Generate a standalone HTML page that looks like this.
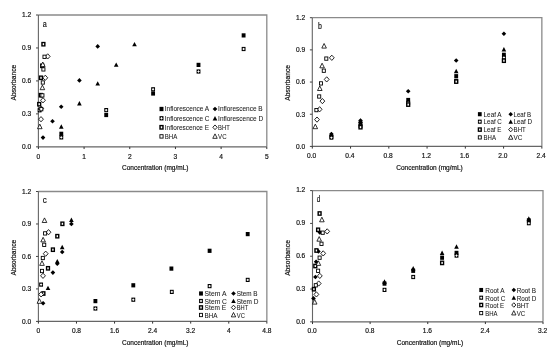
<!DOCTYPE html>
<html><head><meta charset="utf-8"><style>
html,body{margin:0;padding:0;background:#fff;width:550px;height:351px;overflow:hidden}
svg{display:block;filter:grayscale(1) blur(0.3px)}
text{font-family:"Liberation Sans", sans-serif;fill:#111;stroke:#111;stroke-width:0.18px}
.lg{fill:#1a1a1a;stroke:#1a1a1a;stroke-width:0.06px}
</style></head><body>
<svg width="550" height="351" viewBox="0 0 550 351">
<rect width="550" height="351" fill="#fff"/>
<path d="M38.4 15.0H266.8V146.85" fill="none" stroke="#8a8a8a" stroke-width="1.3"/>
<path d="M38.4 15.0V146.85H266.8" fill="none" stroke="#666" stroke-width="1.1"/>
<path d="M36.0 146.85H38.4" stroke="#444" stroke-width="1"/>
<text x="31.20" y="149.15" font-size="6.6" text-anchor="end" >0.0</text>
<path d="M36.0 113.89H38.4" stroke="#444" stroke-width="1"/>
<text x="31.20" y="116.19" font-size="6.6" text-anchor="end" >0.3</text>
<path d="M36.0 80.92H38.4" stroke="#444" stroke-width="1"/>
<text x="31.20" y="83.22" font-size="6.6" text-anchor="end" >0.6</text>
<path d="M36.0 47.96H38.4" stroke="#444" stroke-width="1"/>
<text x="31.20" y="50.26" font-size="6.6" text-anchor="end" >0.9</text>
<path d="M36.0 15.00H38.4" stroke="#444" stroke-width="1"/>
<text x="31.20" y="17.30" font-size="6.6" text-anchor="end" >1.2</text>
<path d="M38.40 146.85V149.04999999999998" stroke="#333" stroke-width="1"/>
<text x="38.40" y="158.95" font-size="6.6" text-anchor="middle" >0</text>
<path d="M84.08 146.85V149.04999999999998" stroke="#333" stroke-width="1"/>
<text x="84.08" y="158.95" font-size="6.6" text-anchor="middle" >1</text>
<path d="M129.76 146.85V149.04999999999998" stroke="#333" stroke-width="1"/>
<text x="129.76" y="158.95" font-size="6.6" text-anchor="middle" >2</text>
<path d="M175.44 146.85V149.04999999999998" stroke="#333" stroke-width="1"/>
<text x="175.44" y="158.95" font-size="6.6" text-anchor="middle" >3</text>
<path d="M221.12 146.85V149.04999999999998" stroke="#333" stroke-width="1"/>
<text x="221.12" y="158.95" font-size="6.6" text-anchor="middle" >4</text>
<path d="M266.80 146.85V149.04999999999998" stroke="#333" stroke-width="1"/>
<text x="266.80" y="158.95" font-size="6.6" text-anchor="middle" >5</text>
<text x="155.20" y="170.35" font-size="6.5" text-anchor="middle" >Concentration (mg/mL)</text>
<text x="0" y="0" font-size="6.7" text-anchor="middle" transform="translate(16.0,82.6) rotate(-90)">Absorbance</text>
<text x="42.80" y="26.50" font-size="8.6" text-anchor="start"  textLength="4.00" lengthAdjust="spacingAndGlyphs">a</text>
<rect x="241.67" y="33.30" width="3.86" height="4.2" fill="#000"/>
<rect x="196.57" y="62.80" width="3.86" height="4.2" fill="#000"/>
<rect x="151.17" y="91.40" width="3.86" height="4.2" fill="#000"/>
<rect x="104.27" y="112.90" width="3.86" height="4.2" fill="#000"/>
<rect x="59.37" y="131.70" width="3.86" height="4.2" fill="#000"/>
<path d="M97.70 44.09L100.01 46.40L97.70 48.71L95.39 46.40Z" fill="#000"/>
<path d="M79.40 78.09L81.71 80.40L79.40 82.71L77.09 80.40Z" fill="#000"/>
<path d="M61.20 104.49L63.51 106.80L61.20 109.11L58.89 106.80Z" fill="#000"/>
<path d="M52.50 118.99L54.81 121.30L52.50 123.61L50.19 121.30Z" fill="#000"/>
<path d="M43.00 135.29L45.31 137.60L43.00 139.91L40.69 137.60Z" fill="#000"/>
<rect x="241.67" y="46.90" width="3.86" height="4.2" fill="#000"/><rect x="242.51" y="48.50" width="2.18" height="1.01" fill="#fff"/><rect x="243.10" y="47.91" width="1.01" height="2.18" fill="#fff"/>
<rect x="196.57" y="69.40" width="3.86" height="4.2" fill="#000"/><rect x="197.41" y="71.00" width="2.18" height="1.01" fill="#fff"/><rect x="198.00" y="70.41" width="1.01" height="2.18" fill="#fff"/>
<rect x="151.17" y="87.20" width="3.86" height="4.2" fill="#000"/><rect x="152.01" y="88.80" width="2.18" height="1.01" fill="#fff"/><rect x="152.60" y="88.21" width="1.01" height="2.18" fill="#fff"/>
<rect x="104.27" y="108.00" width="3.86" height="4.2" fill="#000"/><rect x="105.11" y="109.60" width="2.18" height="1.01" fill="#fff"/><rect x="105.70" y="109.01" width="1.01" height="2.18" fill="#fff"/>
<rect x="59.37" y="135.30" width="3.86" height="4.2" fill="#000"/><rect x="60.21" y="136.90" width="2.18" height="1.01" fill="#fff"/><rect x="60.80" y="136.31" width="1.01" height="2.18" fill="#fff"/>
<rect x="37.67" y="108.20" width="3.86" height="4.2" fill="#000"/><rect x="38.51" y="109.80" width="2.18" height="1.01" fill="#fff"/><rect x="39.10" y="109.21" width="1.01" height="2.18" fill="#fff"/>
<path d="M134.50 41.90L136.80 46.30L132.20 46.30Z" fill="#000"/>
<path d="M116.20 62.40L118.50 66.80L113.90 66.80Z" fill="#000"/>
<path d="M97.70 81.20L100.00 85.60L95.40 85.60Z" fill="#000"/>
<path d="M79.40 101.10L81.70 105.50L77.10 105.50Z" fill="#000"/>
<path d="M61.30 124.30L63.60 128.70L59.00 128.70Z" fill="#000"/>
<rect x="41.26" y="41.85" width="4.28" height="4.70" fill="#000"/><rect x="42.69" y="43.19" width="1.43" height="2.02" fill="#fff"/>
<rect x="40.06" y="63.45" width="4.28" height="4.70" fill="#000"/><rect x="41.49" y="64.79" width="1.43" height="2.02" fill="#fff"/>
<rect x="38.86" y="75.45" width="4.28" height="4.70" fill="#000"/><rect x="40.29" y="76.79" width="1.43" height="2.02" fill="#fff"/>
<rect x="38.66" y="92.85" width="4.28" height="4.70" fill="#000"/><rect x="40.09" y="94.19" width="1.43" height="2.02" fill="#fff"/>
<rect x="37.06" y="101.85" width="4.28" height="4.70" fill="#000"/><rect x="38.49" y="103.19" width="1.43" height="2.02" fill="#fff"/>
<path d="M47.70 53.77L50.12 56.40L47.70 59.02L45.29 56.40Z" fill="#fff" stroke="#000" stroke-width="0.85"/>
<path d="M45.30 75.17L47.71 77.80L45.30 80.42L42.88 77.80Z" fill="#fff" stroke="#000" stroke-width="0.85"/>
<path d="M43.00 97.67L45.41 100.30L43.00 102.92L40.59 100.30Z" fill="#fff" stroke="#000" stroke-width="0.85"/>
<path d="M41.20 105.97L43.62 108.60L41.20 111.22L38.79 108.60Z" fill="#fff" stroke="#000" stroke-width="0.85"/>
<path d="M41.00 116.58L43.41 119.20L41.00 121.83L38.59 119.20Z" fill="#fff" stroke="#000" stroke-width="0.85"/>
<rect x="42.96" y="55.15" width="3.09" height="3.30" fill="#fff" stroke="#000" stroke-width="0.9"/>
<rect x="41.86" y="67.75" width="3.09" height="3.30" fill="#fff" stroke="#000" stroke-width="0.9"/>
<rect x="41.26" y="80.85" width="3.09" height="3.30" fill="#fff" stroke="#000" stroke-width="0.9"/>
<rect x="40.86" y="93.75" width="3.09" height="3.30" fill="#fff" stroke="#000" stroke-width="0.9"/>
<rect x="39.76" y="107.55" width="3.09" height="3.30" fill="#fff" stroke="#000" stroke-width="0.9"/>
<path d="M42.80 62.00L45.10 66.60L40.50 66.60Z" fill="#fff" stroke="#000" stroke-width="0.8" stroke-linejoin="round"/>
<path d="M42.40 85.10L44.70 89.70L40.10 89.70Z" fill="#fff" stroke="#000" stroke-width="0.8" stroke-linejoin="round"/>
<path d="M39.80 124.10L42.10 128.70L37.50 128.70Z" fill="#fff" stroke="#000" stroke-width="0.8" stroke-linejoin="round"/>
<rect x="159.52" y="106.85" width="3.96" height="4.3" fill="#000"/>
<text x="164.80" y="111.35" font-size="6.9" text-anchor="start" class="lg" textLength="44.40" lengthAdjust="spacingAndGlyphs">Inflorescence A</text>
<path d="M215.00 106.64L217.37 109.00L215.00 111.36L212.63 109.00Z" fill="#000"/>
<text x="218.10" y="111.35" font-size="6.9" text-anchor="start" class="lg" textLength="44.50" lengthAdjust="spacingAndGlyphs">Inflorescence B</text>
<rect x="159.52" y="116.15" width="3.96" height="4.3" fill="#000"/><rect x="160.38" y="117.78" width="2.24" height="1.03" fill="#fff"/><rect x="160.98" y="117.18" width="1.03" height="2.24" fill="#fff"/>
<text x="164.80" y="120.65" font-size="6.9" text-anchor="start" class="lg" textLength="44.70" lengthAdjust="spacingAndGlyphs">Inflorescence C</text>
<path d="M215.00 115.95L217.35 120.45L212.65 120.45Z" fill="#000"/>
<text x="218.10" y="120.65" font-size="6.9" text-anchor="start" class="lg" textLength="45.00" lengthAdjust="spacingAndGlyphs">Inflorescence D</text>
<rect x="159.31" y="124.89" width="4.39" height="4.82" fill="#000"/><rect x="160.77" y="126.27" width="1.46" height="2.06" fill="#fff"/>
<text x="164.80" y="129.65" font-size="6.9" text-anchor="start" class="lg" textLength="44.20" lengthAdjust="spacingAndGlyphs">Inflorescence E</text>
<path d="M215.00 124.94L217.18 127.30L215.00 129.66L212.82 127.30Z" fill="#fff" stroke="#000" stroke-width="0.85"/>
<text x="218.10" y="129.65" font-size="6.9" text-anchor="start" class="lg" textLength="11.60" lengthAdjust="spacingAndGlyphs">BHT</text>
<rect x="159.91" y="134.70" width="3.19" height="3.40" fill="#fff" stroke="#000" stroke-width="0.9"/>
<text x="164.80" y="138.75" font-size="6.9" text-anchor="start" class="lg" textLength="12.50" lengthAdjust="spacingAndGlyphs">BHA</text>
<path d="M215.00 133.86L217.24 138.34L212.76 138.34Z" fill="#fff" stroke="#000" stroke-width="0.8" stroke-linejoin="round"/>
<text x="218.10" y="138.75" font-size="6.9" text-anchor="start" class="lg" textLength="8.50" lengthAdjust="spacingAndGlyphs">VC</text>
<path d="M312.3 17.7H541.85V146.4" fill="none" stroke="#8a8a8a" stroke-width="1.3"/>
<path d="M312.3 17.7V146.4H541.85" fill="none" stroke="#666" stroke-width="1.1"/>
<path d="M309.90000000000003 146.40H312.3" stroke="#444" stroke-width="1"/>
<text x="305.10" y="148.70" font-size="6.6" text-anchor="end" >0.0</text>
<path d="M309.90000000000003 114.22H312.3" stroke="#444" stroke-width="1"/>
<text x="305.10" y="116.52" font-size="6.6" text-anchor="end" >0.3</text>
<path d="M309.90000000000003 82.05H312.3" stroke="#444" stroke-width="1"/>
<text x="305.10" y="84.35" font-size="6.6" text-anchor="end" >0.6</text>
<path d="M309.90000000000003 49.88H312.3" stroke="#444" stroke-width="1"/>
<text x="305.10" y="52.17" font-size="6.6" text-anchor="end" >0.9</text>
<path d="M309.90000000000003 17.70H312.3" stroke="#444" stroke-width="1"/>
<text x="305.10" y="20.00" font-size="6.6" text-anchor="end" >1.2</text>
<path d="M312.30 146.4V148.6" stroke="#333" stroke-width="1"/>
<text x="311.60" y="157.70" font-size="6.6" text-anchor="middle" >0.0</text>
<path d="M350.56 146.4V148.6" stroke="#333" stroke-width="1"/>
<text x="349.86" y="157.70" font-size="6.6" text-anchor="middle" >0.4</text>
<path d="M388.82 146.4V148.6" stroke="#333" stroke-width="1"/>
<text x="388.12" y="157.70" font-size="6.6" text-anchor="middle" >0.8</text>
<path d="M427.07 146.4V148.6" stroke="#333" stroke-width="1"/>
<text x="426.38" y="157.70" font-size="6.6" text-anchor="middle" >1.2</text>
<path d="M465.33 146.4V148.6" stroke="#333" stroke-width="1"/>
<text x="464.63" y="157.70" font-size="6.6" text-anchor="middle" >1.6</text>
<path d="M503.59 146.4V148.6" stroke="#333" stroke-width="1"/>
<text x="502.89" y="157.70" font-size="6.6" text-anchor="middle" >2.0</text>
<path d="M541.85 146.4V148.6" stroke="#333" stroke-width="1"/>
<text x="541.15" y="157.70" font-size="6.6" text-anchor="middle" >2.4</text>
<text x="429.50" y="169.90" font-size="6.5" text-anchor="middle" >Concentration (mg/mL)</text>
<text x="0" y="0" font-size="6.7" text-anchor="middle" transform="translate(290.0,82.9) rotate(-90)">Absorbance</text>
<text x="317.90" y="28.70" font-size="8.6" text-anchor="start"  textLength="3.90" lengthAdjust="spacingAndGlyphs">b</text>
<rect x="501.97" y="52.70" width="3.86" height="4.2" fill="#000"/>
<rect x="454.27" y="74.10" width="3.86" height="4.2" fill="#000"/>
<rect x="406.27" y="97.90" width="3.86" height="4.2" fill="#000"/>
<rect x="358.57" y="121.40" width="3.86" height="4.2" fill="#000"/>
<rect x="329.47" y="134.70" width="3.86" height="4.2" fill="#000"/>
<path d="M503.90 31.39L506.21 33.70L503.90 36.01L501.59 33.70Z" fill="#000"/>
<path d="M456.20 58.19L458.51 60.50L456.20 62.81L453.89 60.50Z" fill="#000"/>
<path d="M408.20 88.89L410.51 91.20L408.20 93.51L405.89 91.20Z" fill="#000"/>
<path d="M360.50 118.19L362.81 120.50L360.50 122.81L358.19 120.50Z" fill="#000"/>
<path d="M331.40 131.69L333.71 134.00L331.40 136.31L329.09 134.00Z" fill="#000"/>
<rect x="501.97" y="55.50" width="3.86" height="4.2" fill="#000"/><rect x="502.81" y="57.10" width="2.18" height="1.01" fill="#fff"/><rect x="503.40" y="56.51" width="1.01" height="2.18" fill="#fff"/>
<rect x="454.27" y="78.90" width="3.86" height="4.2" fill="#000"/><rect x="455.11" y="80.50" width="2.18" height="1.01" fill="#fff"/><rect x="455.70" y="79.91" width="1.01" height="2.18" fill="#fff"/>
<rect x="406.27" y="100.70" width="3.86" height="4.2" fill="#000"/><rect x="407.11" y="102.30" width="2.18" height="1.01" fill="#fff"/><rect x="407.70" y="101.71" width="1.01" height="2.18" fill="#fff"/>
<rect x="358.57" y="123.90" width="3.86" height="4.2" fill="#000"/><rect x="359.41" y="125.50" width="2.18" height="1.01" fill="#fff"/><rect x="360.00" y="124.91" width="1.01" height="2.18" fill="#fff"/>
<rect x="329.47" y="135.50" width="3.86" height="4.2" fill="#000"/><rect x="330.31" y="137.10" width="2.18" height="1.01" fill="#fff"/><rect x="330.90" y="136.51" width="1.01" height="2.18" fill="#fff"/>
<path d="M503.90 47.00L506.20 51.40L501.60 51.40Z" fill="#000"/>
<path d="M456.20 68.80L458.50 73.20L453.90 73.20Z" fill="#000"/>
<path d="M360.50 118.50L362.80 122.90L358.20 122.90Z" fill="#000"/>
<path d="M331.40 131.90L333.70 136.30L329.10 136.30Z" fill="#000"/>
<rect x="501.76" y="58.35" width="4.28" height="4.70" fill="#000"/><rect x="503.19" y="59.69" width="1.43" height="2.02" fill="#fff"/>
<rect x="454.06" y="79.25" width="4.28" height="4.70" fill="#000"/><rect x="455.49" y="80.59" width="1.43" height="2.02" fill="#fff"/>
<rect x="406.06" y="102.25" width="4.28" height="4.70" fill="#000"/><rect x="407.49" y="103.59" width="1.43" height="2.02" fill="#fff"/>
<rect x="358.36" y="124.85" width="4.28" height="4.70" fill="#000"/><rect x="359.79" y="126.19" width="1.43" height="2.02" fill="#fff"/>
<path d="M331.80 55.17L334.22 57.80L331.80 60.42L329.38 57.80Z" fill="#fff" stroke="#000" stroke-width="0.85"/>
<path d="M326.70 76.78L329.12 79.40L326.70 82.03L324.28 79.40Z" fill="#fff" stroke="#000" stroke-width="0.85"/>
<path d="M322.40 98.47L324.81 101.10L322.40 103.72L319.98 101.10Z" fill="#fff" stroke="#000" stroke-width="0.85"/>
<path d="M319.60 106.67L322.02 109.30L319.60 111.92L317.19 109.30Z" fill="#fff" stroke="#000" stroke-width="0.85"/>
<path d="M317.00 116.97L319.42 119.60L317.00 122.22L314.58 119.60Z" fill="#fff" stroke="#000" stroke-width="0.85"/>
<rect x="324.75" y="56.95" width="3.09" height="3.30" fill="#fff" stroke="#000" stroke-width="0.9"/>
<rect x="322.25" y="69.05" width="3.09" height="3.30" fill="#fff" stroke="#000" stroke-width="0.9"/>
<rect x="319.45" y="81.75" width="3.09" height="3.30" fill="#fff" stroke="#000" stroke-width="0.9"/>
<rect x="317.65" y="94.85" width="3.09" height="3.30" fill="#fff" stroke="#000" stroke-width="0.9"/>
<rect x="314.85" y="108.45" width="3.09" height="3.30" fill="#fff" stroke="#000" stroke-width="0.9"/>
<path d="M324.10 43.50L326.40 48.10L321.80 48.10Z" fill="#fff" stroke="#000" stroke-width="0.8" stroke-linejoin="round"/>
<path d="M322.10 63.20L324.40 67.80L319.80 67.80Z" fill="#fff" stroke="#000" stroke-width="0.8" stroke-linejoin="round"/>
<path d="M319.80 85.90L322.10 90.50L317.50 90.50Z" fill="#fff" stroke="#000" stroke-width="0.8" stroke-linejoin="round"/>
<path d="M315.30 124.10L317.60 128.70L313.00 128.70Z" fill="#fff" stroke="#000" stroke-width="0.8" stroke-linejoin="round"/>
<rect x="477.91" y="112.15" width="3.77" height="4.1" fill="#000"/>
<text x="483.60" y="116.55" font-size="6.6" text-anchor="start" class="lg" textLength="18.00" lengthAdjust="spacingAndGlyphs">Leaf A</text>
<path d="M510.70 111.95L512.96 114.20L510.70 116.45L508.44 114.20Z" fill="#000"/>
<text x="513.60" y="116.55" font-size="6.6" text-anchor="start" class="lg" textLength="17.60" lengthAdjust="spacingAndGlyphs">Leaf B</text>
<rect x="477.91" y="119.65" width="3.77" height="4.1" fill="#000"/><rect x="478.73" y="121.21" width="2.13" height="0.98" fill="#fff"/><rect x="479.31" y="120.63" width="0.98" height="2.13" fill="#fff"/>
<text x="483.60" y="124.05" font-size="6.6" text-anchor="start" class="lg" textLength="18.20" lengthAdjust="spacingAndGlyphs">Leaf C</text>
<path d="M510.70 119.45L512.95 123.75L508.45 123.75Z" fill="#000"/>
<text x="513.60" y="124.05" font-size="6.6" text-anchor="start" class="lg" textLength="18.50" lengthAdjust="spacingAndGlyphs">Leaf D</text>
<rect x="477.71" y="127.30" width="4.18" height="4.59" fill="#000"/><rect x="479.10" y="128.62" width="1.39" height="1.97" fill="#fff"/>
<text x="483.60" y="131.95" font-size="6.6" text-anchor="start" class="lg" textLength="17.80" lengthAdjust="spacingAndGlyphs">Leaf E</text>
<path d="M510.70 127.34L512.77 129.60L510.70 131.85L508.63 129.60Z" fill="#fff" stroke="#000" stroke-width="0.85"/>
<text x="513.60" y="131.95" font-size="6.6" text-anchor="start" class="lg" textLength="12.10" lengthAdjust="spacingAndGlyphs">BHT</text>
<rect x="478.30" y="135.80" width="2.99" height="3.20" fill="#fff" stroke="#000" stroke-width="0.9"/>
<text x="483.60" y="139.75" font-size="6.6" text-anchor="start" class="lg" textLength="12.40" lengthAdjust="spacingAndGlyphs">BHA</text>
<path d="M510.70 134.95L512.85 139.25L508.55 139.25Z" fill="#fff" stroke="#000" stroke-width="0.8" stroke-linejoin="round"/>
<text x="513.60" y="139.75" font-size="6.6" text-anchor="start" class="lg" textLength="8.90" lengthAdjust="spacingAndGlyphs">VC</text>
<path d="M38.4 191.5H266.85V321.4" fill="none" stroke="#8a8a8a" stroke-width="1.3"/>
<path d="M38.4 191.5V321.4H266.85" fill="none" stroke="#666" stroke-width="1.1"/>
<path d="M36.0 321.40H38.4" stroke="#444" stroke-width="1"/>
<text x="31.20" y="323.70" font-size="6.6" text-anchor="end" >0.0</text>
<path d="M36.0 288.92H38.4" stroke="#444" stroke-width="1"/>
<text x="31.20" y="291.22" font-size="6.6" text-anchor="end" >0.3</text>
<path d="M36.0 256.45H38.4" stroke="#444" stroke-width="1"/>
<text x="31.20" y="258.75" font-size="6.6" text-anchor="end" >0.6</text>
<path d="M36.0 223.97H38.4" stroke="#444" stroke-width="1"/>
<text x="31.20" y="226.28" font-size="6.6" text-anchor="end" >0.9</text>
<path d="M36.0 191.50H38.4" stroke="#444" stroke-width="1"/>
<text x="31.20" y="193.80" font-size="6.6" text-anchor="end" >1.2</text>
<path d="M38.40 321.4V323.59999999999997" stroke="#333" stroke-width="1"/>
<text x="38.40" y="332.80" font-size="6.6" text-anchor="middle" >0</text>
<path d="M76.47 321.4V323.59999999999997" stroke="#333" stroke-width="1"/>
<text x="76.47" y="332.80" font-size="6.6" text-anchor="middle" >0.8</text>
<path d="M114.55 321.4V323.59999999999997" stroke="#333" stroke-width="1"/>
<text x="114.55" y="332.80" font-size="6.6" text-anchor="middle" >1.6</text>
<path d="M152.62 321.4V323.59999999999997" stroke="#333" stroke-width="1"/>
<text x="152.62" y="332.80" font-size="6.6" text-anchor="middle" >2.4</text>
<path d="M190.70 321.4V323.59999999999997" stroke="#333" stroke-width="1"/>
<text x="190.70" y="332.80" font-size="6.6" text-anchor="middle" >3.2</text>
<path d="M228.78 321.4V323.59999999999997" stroke="#333" stroke-width="1"/>
<text x="228.78" y="332.80" font-size="6.6" text-anchor="middle" >4</text>
<path d="M266.85 321.4V323.59999999999997" stroke="#333" stroke-width="1"/>
<text x="266.85" y="332.80" font-size="6.6" text-anchor="middle" >4.8</text>
<text x="155.20" y="344.90" font-size="6.5" text-anchor="middle" >Concentration (mg/mL)</text>
<text x="0" y="0" font-size="6.7" text-anchor="middle" transform="translate(16.0,257.6) rotate(-90)">Absorbance</text>
<text x="42.80" y="202.90" font-size="8.6" text-anchor="start"  textLength="4.00" lengthAdjust="spacingAndGlyphs">c</text>
<rect x="245.77" y="232.00" width="3.86" height="4.2" fill="#000"/>
<rect x="207.67" y="248.70" width="3.86" height="4.2" fill="#000"/>
<rect x="169.47" y="266.50" width="3.86" height="4.2" fill="#000"/>
<rect x="131.37" y="283.20" width="3.86" height="4.2" fill="#000"/>
<rect x="93.47" y="299.00" width="3.86" height="4.2" fill="#000"/>
<path d="M71.40 221.59L73.71 223.90L71.40 226.21L69.09 223.90Z" fill="#000"/>
<path d="M62.20 249.69L64.51 252.00L62.20 254.31L59.89 252.00Z" fill="#000"/>
<path d="M57.30 261.49L59.61 263.80L57.30 266.11L54.99 263.80Z" fill="#000"/>
<path d="M52.90 270.29L55.21 272.60L52.90 274.91L50.59 272.60Z" fill="#000"/>
<path d="M43.10 300.99L45.41 303.30L43.10 305.61L40.79 303.30Z" fill="#000"/>
<rect x="245.77" y="277.80" width="3.86" height="4.2" fill="#000"/><rect x="246.61" y="279.40" width="2.18" height="1.01" fill="#fff"/><rect x="247.20" y="278.81" width="1.01" height="2.18" fill="#fff"/>
<rect x="207.67" y="284.00" width="3.86" height="4.2" fill="#000"/><rect x="208.51" y="285.60" width="2.18" height="1.01" fill="#fff"/><rect x="209.10" y="285.01" width="1.01" height="2.18" fill="#fff"/>
<rect x="169.87" y="289.80" width="3.86" height="4.2" fill="#000"/><rect x="170.71" y="291.40" width="2.18" height="1.01" fill="#fff"/><rect x="171.30" y="290.81" width="1.01" height="2.18" fill="#fff"/>
<rect x="131.37" y="297.60" width="3.86" height="4.2" fill="#000"/><rect x="132.21" y="299.20" width="2.18" height="1.01" fill="#fff"/><rect x="132.80" y="298.61" width="1.01" height="2.18" fill="#fff"/>
<rect x="93.47" y="306.40" width="3.86" height="4.2" fill="#000"/><rect x="94.31" y="308.00" width="2.18" height="1.01" fill="#fff"/><rect x="94.90" y="307.41" width="1.01" height="2.18" fill="#fff"/>
<rect x="39.17" y="282.50" width="3.86" height="4.2" fill="#000"/><rect x="40.01" y="284.10" width="2.18" height="1.01" fill="#fff"/><rect x="40.60" y="283.51" width="1.01" height="2.18" fill="#fff"/>
<path d="M71.40 217.60L73.70 222.00L69.10 222.00Z" fill="#000"/>
<path d="M62.20 244.80L64.50 249.20L59.90 249.20Z" fill="#000"/>
<path d="M57.30 258.90L59.60 263.30L55.00 263.30Z" fill="#000"/>
<path d="M48.00 285.70L50.30 290.10L45.70 290.10Z" fill="#000"/>
<rect x="60.26" y="221.45" width="4.28" height="4.70" fill="#000"/><rect x="61.69" y="222.79" width="1.43" height="2.02" fill="#fff"/>
<rect x="55.16" y="233.85" width="4.28" height="4.70" fill="#000"/><rect x="56.59" y="235.19" width="1.43" height="2.02" fill="#fff"/>
<rect x="50.76" y="247.35" width="4.28" height="4.70" fill="#000"/><rect x="52.19" y="248.69" width="1.43" height="2.02" fill="#fff"/>
<rect x="45.86" y="265.95" width="4.28" height="4.70" fill="#000"/><rect x="47.29" y="267.29" width="1.43" height="2.02" fill="#fff"/>
<rect x="41.26" y="291.15" width="4.28" height="4.70" fill="#000"/><rect x="42.69" y="292.49" width="1.43" height="2.02" fill="#fff"/>
<path d="M41.10 291.77L43.52 294.40L41.10 297.02L38.69 294.40Z" fill="#fff" stroke="#000" stroke-width="0.85"/>
<path d="M48.50 229.57L50.91 232.20L48.50 234.82L46.09 232.20Z" fill="#fff" stroke="#000" stroke-width="0.85"/>
<path d="M45.70 251.07L48.12 253.70L45.70 256.32L43.29 253.70Z" fill="#fff" stroke="#000" stroke-width="0.85"/>
<path d="M43.00 273.18L45.41 275.80L43.00 278.43L40.59 275.80Z" fill="#fff" stroke="#000" stroke-width="0.85"/>
<rect x="43.56" y="231.75" width="3.09" height="3.30" fill="#fff" stroke="#000" stroke-width="0.9"/>
<rect x="42.66" y="243.15" width="3.09" height="3.30" fill="#fff" stroke="#000" stroke-width="0.9"/>
<rect x="41.26" y="256.35" width="3.09" height="3.30" fill="#fff" stroke="#000" stroke-width="0.9"/>
<rect x="40.46" y="269.35" width="3.09" height="3.30" fill="#fff" stroke="#000" stroke-width="0.9"/>
<path d="M39.40 298.70L41.70 303.30L37.10 303.30Z" fill="#fff" stroke="#000" stroke-width="0.8" stroke-linejoin="round"/>
<path d="M44.50 217.90L46.80 222.50L42.20 222.50Z" fill="#fff" stroke="#000" stroke-width="0.8" stroke-linejoin="round"/>
<path d="M43.10 237.30L45.40 241.90L40.80 241.90Z" fill="#fff" stroke="#000" stroke-width="0.8" stroke-linejoin="round"/>
<path d="M42.00 260.80L44.30 265.40L39.70 265.40Z" fill="#fff" stroke="#000" stroke-width="0.8" stroke-linejoin="round"/>
<rect x="199.07" y="291.40" width="3.86" height="4.2" fill="#000"/>
<text x="204.60" y="296.05" font-size="7.3" text-anchor="start" class="lg" textLength="21.80" lengthAdjust="spacingAndGlyphs">Stem A</text>
<path d="M233.50 291.19L235.81 293.50L233.50 295.81L231.19 293.50Z" fill="#000"/>
<text x="236.80" y="296.05" font-size="7.3" text-anchor="start" class="lg" textLength="20.80" lengthAdjust="spacingAndGlyphs">Stem B</text>
<rect x="199.07" y="298.90" width="3.86" height="4.2" fill="#000"/><rect x="199.91" y="300.50" width="2.18" height="1.01" fill="#fff"/><rect x="200.50" y="299.91" width="1.01" height="2.18" fill="#fff"/>
<text x="204.60" y="303.55" font-size="7.3" text-anchor="start" class="lg" textLength="22.30" lengthAdjust="spacingAndGlyphs">Stem C</text>
<path d="M233.50 298.70L235.80 303.10L231.20 303.10Z" fill="#000"/>
<text x="236.80" y="303.55" font-size="7.3" text-anchor="start" class="lg" textLength="21.60" lengthAdjust="spacingAndGlyphs">Stem D</text>
<rect x="198.86" y="305.15" width="4.28" height="4.70" fill="#000"/><rect x="200.29" y="306.49" width="1.43" height="2.02" fill="#fff"/>
<text x="204.60" y="310.05" font-size="7.3" text-anchor="start" class="lg" textLength="21.40" lengthAdjust="spacingAndGlyphs">Stem E</text>
<path d="M233.50 305.19L235.63 307.50L233.50 309.81L231.37 307.50Z" fill="#fff" stroke="#000" stroke-width="0.85"/>
<text x="236.80" y="310.05" font-size="7.3" text-anchor="start" class="lg" textLength="11.40" lengthAdjust="spacingAndGlyphs">BHT</text>
<rect x="199.45" y="313.35" width="3.09" height="3.30" fill="#fff" stroke="#000" stroke-width="0.9"/>
<text x="204.60" y="317.55" font-size="7.3" text-anchor="start" class="lg" textLength="13.00" lengthAdjust="spacingAndGlyphs">BHA</text>
<path d="M233.50 312.50L235.69 316.89L231.31 316.89Z" fill="#fff" stroke="#000" stroke-width="0.8" stroke-linejoin="round"/>
<text x="236.80" y="317.55" font-size="7.3" text-anchor="start" class="lg" textLength="8.10" lengthAdjust="spacingAndGlyphs">VC</text>
<path d="M312.5 190.6H543.0V321.85" fill="none" stroke="#8a8a8a" stroke-width="1.3"/>
<path d="M312.5 190.6V321.85H543.0" fill="none" stroke="#666" stroke-width="1.1"/>
<path d="M310.1 321.85H312.5" stroke="#444" stroke-width="1"/>
<text x="305.30" y="323.65" font-size="6.6" text-anchor="end" >0.0</text>
<path d="M310.1 289.04H312.5" stroke="#444" stroke-width="1"/>
<text x="305.30" y="290.84" font-size="6.6" text-anchor="end" >0.3</text>
<path d="M310.1 256.23H312.5" stroke="#444" stroke-width="1"/>
<text x="305.30" y="258.03" font-size="6.6" text-anchor="end" >0.6</text>
<path d="M310.1 223.41H312.5" stroke="#444" stroke-width="1"/>
<text x="305.30" y="225.21" font-size="6.6" text-anchor="end" >0.9</text>
<path d="M310.1 190.60H312.5" stroke="#444" stroke-width="1"/>
<text x="305.30" y="192.40" font-size="6.6" text-anchor="end" >1.2</text>
<path d="M312.50 321.85V324.05" stroke="#333" stroke-width="1"/>
<text x="312.20" y="333.35" font-size="6.6" text-anchor="middle" >0.0</text>
<path d="M370.12 321.85V324.05" stroke="#333" stroke-width="1"/>
<text x="369.82" y="333.35" font-size="6.6" text-anchor="middle" >0.8</text>
<path d="M427.75 321.85V324.05" stroke="#333" stroke-width="1"/>
<text x="427.45" y="333.35" font-size="6.6" text-anchor="middle" >1.6</text>
<path d="M485.38 321.85V324.05" stroke="#333" stroke-width="1"/>
<text x="485.07" y="333.35" font-size="6.6" text-anchor="middle" >2.4</text>
<path d="M543.00 321.85V324.05" stroke="#333" stroke-width="1"/>
<text x="542.70" y="333.35" font-size="6.6" text-anchor="middle" >3.2</text>
<text x="430.00" y="345.35" font-size="6.5" text-anchor="middle" >Concentration (mg/mL)</text>
<text x="0" y="0" font-size="6.7" text-anchor="middle" transform="translate(290.0,258.0) rotate(-90)">Absorbance</text>
<text x="316.80" y="201.50" font-size="8.6" text-anchor="start"  textLength="3.50" lengthAdjust="spacingAndGlyphs">d</text>
<rect x="526.87" y="218.30" width="3.86" height="4.2" fill="#000"/>
<rect x="454.57" y="250.80" width="3.86" height="4.2" fill="#000"/>
<rect x="440.17" y="255.60" width="3.86" height="4.2" fill="#000"/>
<rect x="411.27" y="268.70" width="3.86" height="4.2" fill="#000"/>
<rect x="382.57" y="281.50" width="3.86" height="4.2" fill="#000"/>
<path d="M319.80 230.09L322.11 232.40L319.80 234.71L317.49 232.40Z" fill="#000"/>
<path d="M318.40 249.09L320.71 251.40L318.40 253.71L316.09 251.40Z" fill="#000"/>
<path d="M316.10 259.39L318.41 261.70L316.10 264.01L313.79 261.70Z" fill="#000"/>
<path d="M315.40 274.69L317.71 277.00L315.40 279.31L313.09 277.00Z" fill="#000"/>
<path d="M313.50 296.09L315.81 298.40L313.50 300.71L311.19 298.40Z" fill="#000"/>
<rect x="526.87" y="221.10" width="3.86" height="4.2" fill="#000"/><rect x="527.71" y="222.70" width="2.18" height="1.01" fill="#fff"/><rect x="528.30" y="222.11" width="1.01" height="2.18" fill="#fff"/>
<rect x="454.57" y="253.50" width="3.86" height="4.2" fill="#000"/><rect x="455.41" y="255.10" width="2.18" height="1.01" fill="#fff"/><rect x="456.00" y="254.51" width="1.01" height="2.18" fill="#fff"/>
<rect x="411.27" y="274.90" width="3.86" height="4.2" fill="#000"/><rect x="412.11" y="276.50" width="2.18" height="1.01" fill="#fff"/><rect x="412.70" y="275.91" width="1.01" height="2.18" fill="#fff"/>
<rect x="382.57" y="287.80" width="3.86" height="4.2" fill="#000"/><rect x="383.41" y="289.40" width="2.18" height="1.01" fill="#fff"/><rect x="384.00" y="288.81" width="1.01" height="2.18" fill="#fff"/>
<path d="M528.80 216.30L531.10 220.70L526.50 220.70Z" fill="#000"/>
<path d="M456.50 244.30L458.80 248.70L454.20 248.70Z" fill="#000"/>
<path d="M442.10 250.50L444.40 254.90L439.80 254.90Z" fill="#000"/>
<path d="M413.20 266.00L415.50 270.40L410.90 270.40Z" fill="#000"/>
<path d="M384.50 279.30L386.80 283.70L382.20 283.70Z" fill="#000"/>
<rect x="439.96" y="260.55" width="4.28" height="4.70" fill="#000"/><rect x="441.39" y="261.89" width="1.43" height="2.02" fill="#fff"/>
<rect x="317.46" y="211.15" width="4.28" height="4.70" fill="#000"/><rect x="318.89" y="212.49" width="1.43" height="2.02" fill="#fff"/>
<rect x="315.96" y="227.45" width="4.28" height="4.70" fill="#000"/><rect x="317.39" y="228.79" width="1.43" height="2.02" fill="#fff"/>
<rect x="314.26" y="248.15" width="4.28" height="4.70" fill="#000"/><rect x="315.69" y="249.49" width="1.43" height="2.02" fill="#fff"/>
<rect x="313.16" y="263.65" width="4.28" height="4.70" fill="#000"/><rect x="314.59" y="264.99" width="1.43" height="2.02" fill="#fff"/>
<rect x="311.76" y="286.85" width="4.28" height="4.70" fill="#000"/><rect x="313.19" y="288.19" width="1.43" height="2.02" fill="#fff"/>
<path d="M327.20 228.78L329.62 231.40L327.20 234.03L324.78 231.40Z" fill="#fff" stroke="#000" stroke-width="0.85"/>
<path d="M323.20 250.78L325.62 253.40L323.20 256.02L320.78 253.40Z" fill="#fff" stroke="#000" stroke-width="0.85"/>
<path d="M319.80 273.27L322.22 275.90L319.80 278.52L317.38 275.90Z" fill="#fff" stroke="#000" stroke-width="0.85"/>
<path d="M318.70 280.88L321.12 283.50L318.70 286.12L316.28 283.50Z" fill="#fff" stroke="#000" stroke-width="0.85"/>
<path d="M316.40 291.77L318.81 294.40L316.40 297.02L313.98 294.40Z" fill="#fff" stroke="#000" stroke-width="0.85"/>
<rect x="321.15" y="231.05" width="3.09" height="3.30" fill="#fff" stroke="#000" stroke-width="0.9"/>
<rect x="319.95" y="242.15" width="3.09" height="3.30" fill="#fff" stroke="#000" stroke-width="0.9"/>
<rect x="318.06" y="256.05" width="3.09" height="3.30" fill="#fff" stroke="#000" stroke-width="0.9"/>
<rect x="316.56" y="269.15" width="3.09" height="3.30" fill="#fff" stroke="#000" stroke-width="0.9"/>
<rect x="314.25" y="283.65" width="3.09" height="3.30" fill="#fff" stroke="#000" stroke-width="0.9"/>
<path d="M321.90 217.20L324.20 221.80L319.60 221.80Z" fill="#fff" stroke="#000" stroke-width="0.8" stroke-linejoin="round"/>
<path d="M319.20 236.60L321.50 241.20L316.90 241.20Z" fill="#fff" stroke="#000" stroke-width="0.8" stroke-linejoin="round"/>
<path d="M318.40 260.80L320.70 265.40L316.10 265.40Z" fill="#fff" stroke="#000" stroke-width="0.8" stroke-linejoin="round"/>
<path d="M314.70 299.50L317.00 304.10L312.40 304.10Z" fill="#fff" stroke="#000" stroke-width="0.8" stroke-linejoin="round"/>
<rect x="479.31" y="287.95" width="3.77" height="4.1" fill="#000"/>
<text x="485.30" y="292.85" font-size="6.8" text-anchor="start" class="lg" textLength="19.20" lengthAdjust="spacingAndGlyphs">Root A</text>
<path d="M513.80 287.75L516.05 290.00L513.80 292.25L511.54 290.00Z" fill="#000"/>
<text x="516.70" y="292.85" font-size="6.8" text-anchor="start" class="lg" textLength="19.40" lengthAdjust="spacingAndGlyphs">Root B</text>
<rect x="479.31" y="295.65" width="3.77" height="4.1" fill="#000"/><rect x="480.13" y="297.21" width="2.13" height="0.98" fill="#fff"/><rect x="480.71" y="296.63" width="0.98" height="2.13" fill="#fff"/>
<text x="485.30" y="300.55" font-size="6.8" text-anchor="start" class="lg" textLength="20.10" lengthAdjust="spacingAndGlyphs">Root C</text>
<path d="M513.80 295.45L516.05 299.75L511.55 299.75Z" fill="#000"/>
<text x="516.70" y="300.55" font-size="6.8" text-anchor="start" class="lg" textLength="19.70" lengthAdjust="spacingAndGlyphs">Root D</text>
<rect x="479.11" y="302.70" width="4.18" height="4.59" fill="#000"/><rect x="480.50" y="304.02" width="1.39" height="1.97" fill="#fff"/>
<text x="485.30" y="307.85" font-size="6.8" text-anchor="start" class="lg" textLength="18.90" lengthAdjust="spacingAndGlyphs">Root E</text>
<path d="M513.80 302.75L515.87 305.00L513.80 307.25L511.73 305.00Z" fill="#fff" stroke="#000" stroke-width="0.85"/>
<text x="516.70" y="307.85" font-size="6.8" text-anchor="start" class="lg" textLength="12.40" lengthAdjust="spacingAndGlyphs">BHT</text>
<rect x="479.70" y="311.50" width="2.99" height="3.20" fill="#fff" stroke="#000" stroke-width="0.9"/>
<text x="485.30" y="315.95" font-size="6.8" text-anchor="start" class="lg" textLength="12.20" lengthAdjust="spacingAndGlyphs">BHA</text>
<path d="M513.80 310.65L515.95 314.95L511.65 314.95Z" fill="#fff" stroke="#000" stroke-width="0.8" stroke-linejoin="round"/>
<text x="516.70" y="315.95" font-size="6.8" text-anchor="start" class="lg" textLength="8.50" lengthAdjust="spacingAndGlyphs">VC</text>
</svg>
</body></html>
